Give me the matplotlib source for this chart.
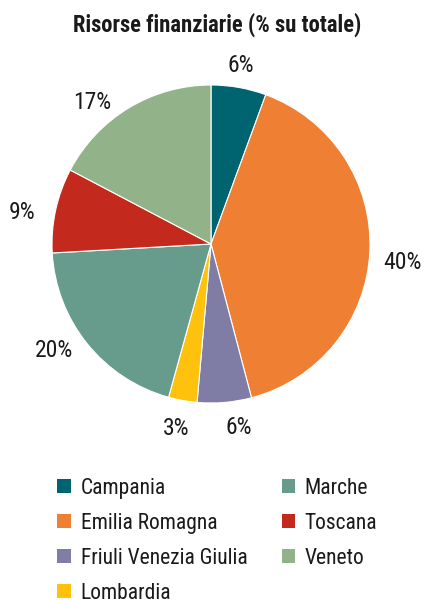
import numpy as np
import matplotlib
matplotlib.use("Agg")
import matplotlib.pyplot as plt
from matplotlib.patches import Patch

regions = ["Campania", "Emilia Romagna", "Friuli Venezia Giulia", "Lombardia",
           "Marche", "Toscana", "Veneto"]
values = [5.6, 40.3, 5.5, 2.9, 19.8, 8.6, 17.3]
labels = ["6%", "40%", "6%", "3%", "20%", "9%", "17%"]
colors = ["#006470", "#EE7F33", "#7F7DA6", "#FDC10E", "#679C8D", "#C3291C", "#92B38A"]
# label placement style: radial distance (in radii) and angular nudge (deg)
label_dist = [1.14, 1.21, 1.17, 1.18, 1.19, 1.205, 1.165]
label_nudge = [0.6, -2.9, 3.8, -0.5, -4.7, 2.9, 8.9]

plt.rcParams['font.family'] = ["Roboto Condensed", 'DejaVu Sans']

fig = plt.figure(figsize=(4.25, 6), dpi=100)
R = 159
cx, cy = 211, 244
ax = fig.add_axes([(cx - R) / 425, (600 - cy - R) / 600, 2 * R / 425, 2 * R / 600])
wedges, _ = ax.pie(values, colors=colors, startangle=90, counterclock=False,
                   wedgeprops=dict(linewidth=0.8, edgecolor="white"))
for w, lab, d, nd in zip(wedges, labels, label_dist, label_nudge):
    ang = np.deg2rad((w.theta1 + w.theta2) / 2 + nd)
    ax.text(d * np.cos(ang), d * np.sin(ang), lab, ha="center", va="center",
            fontsize=17, color="#1a1a1a")
ax.set_xlim(-1, 1)
ax.set_ylim(-1, 1)
ax.set_aspect("equal")
ax.axis("off")

fig.text(217 / 425, 1 - 25 / 600, "Risorse finanziarie (% su totale)", ha="center", va="center",
         fontsize=16.3, fontweight="bold", color="#1a1a1a")

handles = [Patch(facecolor=c, label=r) for c, r in zip(colors, regions)]
leg = fig.legend(handles=handles, ncol=2, loc="upper left", bbox_to_anchor=(0.115, 1 - 469 / 600),
                 frameon=False, fontsize=15.5, handlelength=0.62, handleheight=0.62,
                 handletextpad=0.45, columnspacing=1.6, labelspacing=0.65, borderaxespad=0,
                 labelcolor="#1a1a1a")

fig.savefig("out.png", dpi=100)
